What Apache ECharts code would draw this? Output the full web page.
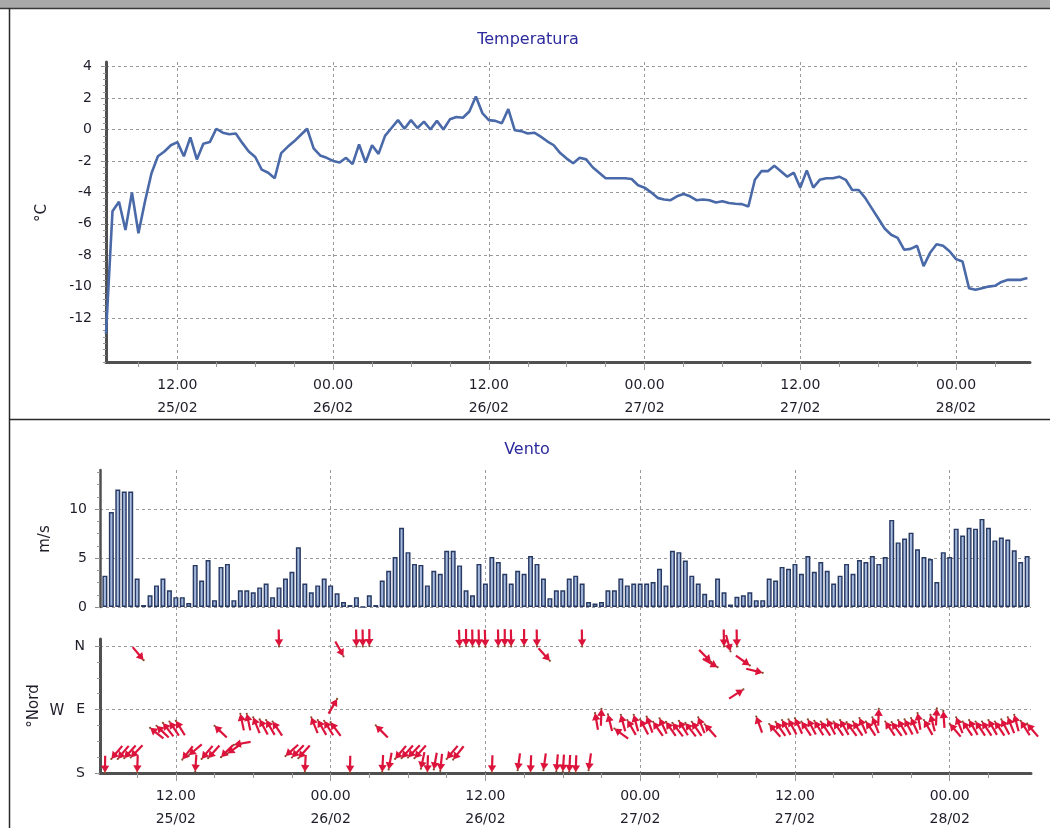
<!DOCTYPE html>
<html><head><meta charset="utf-8">
<script src="https://cdn.jsdelivr.net/npm/echarts@6/dist/echarts.min.js"></script>
<style>html,body{margin:0;padding:0;background:#fff}#c{width:1050px;height:828px}</style>
</head><body><div id="c"></div>
<script>
// Time: hours counted from 25/02 00:00; one reading every 30 minutes from 25/02 06:30
const startHour = 6.5;
const stepHours = 0.5;

// Temperatura (°C), 25/02 06:30 .. 28/02 05:30
const temperature = [
  -13.0,-5.2,-4.6,-6.4,-4.0,-6.6,-4.6,-2.8,-1.7,-1.4,-1.0,-0.8,
  -1.7,-0.5,-1.9,-0.9,-0.8,0.05,-0.2,-0.3,-0.25,-0.85,-1.4,-1.75,
  -2.55,-2.75,-3.1,-1.5,-1.1,-0.75,-0.35,0.05,-1.2,-1.65,-1.8,-2.0,
  -2.1,-1.8,-2.2,-0.95,-2.1,-1.0,-1.55,-0.4,0.1,0.6,0.05,0.6,
  0.1,0.5,0.0,0.55,0.0,0.65,0.8,0.75,1.15,2.1,1.05,0.6,
  0.55,0.4,1.3,-0.05,-0.1,-0.25,-0.2,-0.45,-0.75,-1.0,-1.5,-1.85,
  -2.15,-1.8,-1.9,-2.4,-2.75,-3.1,-3.1,-3.1,-3.1,-3.15,-3.55,-3.7,
  -4.0,-4.35,-4.45,-4.5,-4.25,-4.1,-4.25,-4.5,-4.45,-4.5,-4.65,-4.57,
  -4.68,-4.72,-4.75,-4.9,-3.2,-2.65,-2.65,-2.3,-2.65,-3.0,-2.75,-3.7,
  -2.6,-3.7,-3.2,-3.1,-3.1,-3.0,-3.2,-3.85,-3.85,-4.35,-5.0,-5.65,
  -6.3,-6.7,-6.9,-7.65,-7.6,-7.4,-8.7,-7.85,-7.3,-7.4,-7.75,-8.25,
  -8.4,-10.1,-10.2,-10.1,-10.0,-9.95,-9.7,-9.57,-9.57,-9.57,-9.45
];

// Vento: velocità (m/s), 25/02 06:30 .. 28/02 06:00
const windSpeed = [
  3.2,9.7,12.0,11.8,11.8,2.9,0.2,1.2,2.2,2.9,1.7,1.0,
  1.0,0.4,4.3,2.7,4.8,0.7,4.1,4.4,0.7,1.7,1.7,1.5,
  2.0,2.4,1.0,2.0,2.9,3.6,6.1,2.4,1.5,2.2,2.9,2.2,
  1.4,0.5,0.2,1.0,0.0,1.2,0.2,2.7,3.7,5.1,8.1,5.6,
  4.4,4.3,2.2,3.7,3.4,5.75,5.75,4.25,1.7,1.2,4.4,2.4,
  5.1,4.6,3.4,2.4,3.7,3.4,5.2,4.4,2.9,0.9,1.7,1.7,
  2.9,3.2,2.4,0.5,0.35,0.5,1.7,1.7,2.9,2.2,2.4,2.4,
  2.4,2.55,3.9,2.2,5.75,5.6,4.75,3.2,2.4,1.35,0.7,2.9,
  1.5,0.25,1.05,1.2,1.5,0.7,0.7,2.9,2.7,4.1,3.9,4.4,
  3.4,5.2,3.6,4.6,3.7,2.4,3.2,4.4,3.4,4.8,4.6,5.2,
  4.4,5.1,8.9,6.6,7.0,7.6,5.9,5.1,4.9,2.55,5.6,5.1,
  8.0,7.3,8.1,8.0,9.0,8.1,6.8,7.1,6.9,5.8,4.6,5.2
];

// Vento: direzione (gradi), 25/02 06:30 .. 28/02 06:00
const windDir = [
  1,40,40,42,44,2,320,128,134,142,146,148,
  38,50,4,40,42,134,45,55,80,168,168,158,
  152,150,146,359,48,44,42,3,158,150,148,144,
  210,331,1,359,359,360,135,3,10,40,42,44,
  42,12,2,10,6,40,38,358,360,359,359,358,
  2,359,360,359,8,360,2,359,8,318,5,4,
  3,2,359,8,170,182,166,126,165,150,165,152,
  160,145,155,145,142,148,142,145,158,138,315,300,
  359,345,359,237,305,160,284,139,145,150,152,155,
  146,152,148,146,152,146,150,144,146,156,146,158,
  182,146,144,150,152,156,170,150,165,183,176,140,
  158,146,150,146,146,150,146,152,158,165,148,140
];

// Tick labels
const timeTickHours = [12, 24, 36, 48, 60, 72];
const timeTickLabels = ['12.00\n25/02','00.00\n26/02','12.00\n26/02','00.00\n27/02','12.00\n27/02','00.00\n28/02'];
const tempTicks = [-12,-10,-8,-6,-4,-2,0,2,4];
const speedTicks = [0,5,10];
const dirTicks = [0,180,360];
const dirTickLabels = ['S','E','N'];

// ---- axis ranges & styling ----
const TOP_MIN = 6.5, TOP_MAX = 77.7;
const BOT_MIN = 6.12, BOT_MAX = 78.3;
const TEMP_MIN = -14.8, TEMP_MAX = 4.3;
const SPEED_MIN = 0, SPEED_MAX = 14;
const DIR_MIN = 0, DIR_MAX = 380;

function range(a, b, s) { const r = []; for (let k = 0; a + k * s <= b + 1e-9; k++) r.push(Math.round((a + k * s) * 1000) / 1000); return r; }
const minorTime = range(9, 75, 3);
const minorTemp = range(-14.8, 4.0, 0.4);
const minorSpeed = range(0, 13.75, 1.25);
const minorDir = range(0, 360, 45);

const FONT = 'DejaVu Sans';
const LABEL = { fontFamily: FONT, fontSize: 14, color: '#1e1e2a' };
const gridLine = { show: true, lineStyle: { color: '#9a9a9a', type: [3, 3], width: 1 } };
const axisDark = (w) => ({ show: true, onZero: false, lineStyle: { color: '#505050', width: w } });

function timeLabel(v) { const i = timeTickHours.indexOf(Math.round(v)); return i >= 0 ? timeTickLabels[i] : ''; }

function mainTimeAxis(gridIndex, min, max, withLine) {
  return {
    gridIndex, type: 'value', position: 'bottom', min, max,
    axisLine: withLine ? axisDark(3) : { show: false, onZero: false },
    axisTick: { show: withLine, customValues: timeTickHours, length: 9, lineStyle: { color: '#999', type: [3, 2] } },
    axisLabel: withLine ? Object.assign({ customValues: timeTickHours, formatter: timeLabel, margin: 12, lineHeight: 23 }, LABEL) : { show: false },
    splitLine: gridLine
  };
}
function minorAxisX(gridIndex, min, max) {
  return { gridIndex, type: 'value', position: 'bottom', min, max,
    axisLine: { show: false, onZero: false },
    axisTick: { show: true, customValues: minorTime, length: 5, lineStyle: { color: '#999' } },
    axisLabel: { show: false }, splitLine: { show: false } };
}
function minorAxisY(gridIndex, min, max, vals) {
  return { gridIndex, type: 'value', position: 'left', min, max,
    axisLine: { show: false, onZero: false },
    axisTick: { show: true, customValues: vals, length: 3, lineStyle: { color: '#999' } },
    axisLabel: { show: false }, splitLine: { show: false } };
}

const xs = (i) => startHour + i * stepHours;
const tempData = temperature.map((v, i) => [xs(i), v]);
const speedData = windSpeed.map((v, i) => [xs(i), v]);
const dirData = windDir.map((v, i) => [xs(i), v]);

const ARROW = '#dc143c';
function renderArrow(params, api) {
  const p = api.coord([api.value(0), api.value(1)]);
  const a = (api.value(1) + 180) * Math.PI / 180; // direction the wind blows to (clockwise from up)
  const dx = Math.sin(a), dy = -Math.cos(a);
  const L = 17, H = 7, W = 4.2;
  const tail = [p[0] - dx * L, p[1] - dy * L];
  const base = [p[0] - dx * H, p[1] - dy * H];
  const nx = -dy, ny = dx;
  return { type: 'group', children: [
    { type: 'line', shape: { x1: tail[0], y1: tail[1], x2: base[0] + dx, y2: base[1] + dy }, style: { stroke: ARROW, lineWidth: 2.2 } },
    { type: 'polygon', shape: { points: [p, [base[0] + nx * W, base[1] + ny * W], [base[0] - nx * W, base[1] - ny * W]] }, style: { fill: ARROW } },
    { type: 'circle', shape: { cx: p[0], cy: p[1], r: 1.1 }, style: { fill: '#8a4a2a' } }
  ] };
}

const chart = echarts.init(document.getElementById('c'), null, { renderer: 'canvas' });
chart.setOption({
  animation: false,
  backgroundColor: '#ffffff',
  grid: [
    { left: 106, right: 20, top: 62, height: 300, outerBoundsMode: 'none' },
    { left: 100, right: 19, top: 470, height: 137, outerBoundsMode: 'none' },
    { left: 100, right: 19, top: 639, height: 134, outerBoundsMode: 'none' },
    { left: 100, right: 19, top: 607, height: 32, outerBoundsMode: 'none' }
  ],
  xAxis: [
    mainTimeAxis(0, TOP_MIN, TOP_MAX, true),
    minorAxisX(0, TOP_MIN, TOP_MAX),
    mainTimeAxis(1, BOT_MIN, BOT_MAX, false),
    mainTimeAxis(3, BOT_MIN, BOT_MAX, false),
    mainTimeAxis(2, BOT_MIN, BOT_MAX, true),
    minorAxisX(2, BOT_MIN, BOT_MAX)
  ],
  yAxis: [
    { gridIndex: 0, type: 'value', position: 'left', min: TEMP_MIN, max: TEMP_MAX,
      axisLine: axisDark(3),
      axisTick: { show: true, customValues: tempTicks, length: 5, lineStyle: { color: '#888' } },
      axisLabel: Object.assign({ customValues: tempTicks, margin: 14 }, LABEL),
      splitLine: gridLine },
    minorAxisY(0, TEMP_MIN, TEMP_MAX, minorTemp),
    { gridIndex: 1, type: 'value', position: 'left', min: SPEED_MIN, max: SPEED_MAX,
      axisLine: axisDark(2.5),
      axisTick: { show: true, customValues: speedTicks, length: 5, lineStyle: { color: '#888' } },
      axisLabel: Object.assign({ customValues: speedTicks, margin: 13 }, LABEL),
      splitLine: gridLine },
    minorAxisY(1, SPEED_MIN, SPEED_MAX, minorSpeed),
    { gridIndex: 2, type: 'value', position: 'left', min: DIR_MIN, max: DIR_MAX,
      axisLine: axisDark(3),
      axisTick: { show: true, customValues: dirTicks, length: 5, lineStyle: { color: '#888' } },
      axisLabel: Object.assign({ customValues: dirTicks, margin: 15,
        formatter: (v) => { const i = dirTicks.indexOf(Math.round(v)); return i >= 0 ? dirTickLabels[i] : ''; } }, LABEL),
      splitLine: gridLine },
    minorAxisY(2, DIR_MIN, DIR_MAX, minorDir),
    { gridIndex: 3, type: 'value', show: false, min: 0, max: 1 }
  ],
  series: [
    { type: 'line', name: 'Temperatura', xAxisIndex: 0, yAxisIndex: 0, data: tempData,
      showSymbol: false, symbol: 'none', lineStyle: { color: '#4a69a8', width: 2.6 }, z: 5 },
    { type: 'bar', name: 'Vento m/s', xAxisIndex: 2, yAxisIndex: 2, data: speedData, barWidth: 5,
      itemStyle: {
        color: { type: 'linear', x: 0, y: 0, x2: 1, y2: 0, colorStops: [
          { offset: 0, color: '#6783b6' }, { offset: 0.45, color: '#adc0e2' }, { offset: 1, color: '#6783b6' } ] },
        borderColor: '#283a62', borderWidth: 1.4 }, z: 5 },
    { type: 'custom', name: 'Vento direzione', xAxisIndex: 4, yAxisIndex: 4, data: dirData,
      renderItem: renderArrow, clip: false, z: 6 }
  ],
  graphic: [
    { type: 'rect', shape: { x: 0, y: 0, width: 1050, height: 8 }, style: { fill: '#a9a9a9' }, silent: true },
    { type: 'line', shape: { x1: 0, y1: 8.5, x2: 1050, y2: 8.5 }, style: { stroke: '#3a3a3a', lineWidth: 1.5 }, silent: true },
    { type: 'line', shape: { x1: 9.5, y1: 8, x2: 9.5, y2: 828 }, style: { stroke: '#2a2a2a', lineWidth: 1.5 }, silent: true },
    { type: 'line', shape: { x1: 9.5, y1: 419.5, x2: 1050, y2: 419.5 }, style: { stroke: '#2a2a2a', lineWidth: 1.5 }, silent: true },
    { type: 'text', x: 528, y: 40, style: { text: 'Temperatura', font: '16px "DejaVu Sans"', fill: '#2c2a9c', textAlign: 'center', textVerticalAlign: 'middle' } },
    { type: 'text', x: 527, y: 450, style: { text: 'Vento', font: '16px "DejaVu Sans"', fill: '#2c2a9c', textAlign: 'center', textVerticalAlign: 'middle' } },
    { type: 'text', x: 42, y: 213, rotation: Math.PI / 2, style: { text: '°C', font: '15px "DejaVu Sans"', fill: '#1e1e2a', textAlign: 'center', textVerticalAlign: 'middle' } },
    { type: 'text', x: 45, y: 539, rotation: Math.PI / 2, style: { text: 'm/s', font: '15px "DejaVu Sans"', fill: '#1e1e2a', textAlign: 'center', textVerticalAlign: 'middle' } },
    { type: 'text', x: 34, y: 706, rotation: Math.PI / 2, style: { text: '°Nord', font: '15px "DejaVu Sans"', fill: '#1e1e2a', textAlign: 'center', textVerticalAlign: 'middle' } },
    { type: 'text', x: 57, y: 711, style: { text: 'W', font: '15px "DejaVu Sans"', fill: '#1e1e2a', textAlign: 'center', textVerticalAlign: 'middle' } }
  ]
});
</script>
</body></html>
